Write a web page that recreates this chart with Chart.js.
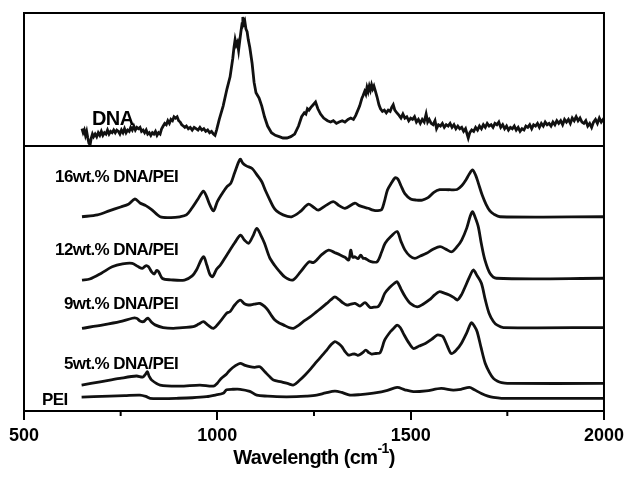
<!DOCTYPE html>
<html>
<head>
<meta charset="utf-8">
<script src="https://cdn.jsdelivr.net/npm/chart.js@4.4.1/dist/chart.umd.min.js"></script>
<style>
  html, body { margin: 0; padding: 0; background: #fff; }
  #wrap { width: 629px; height: 492px; }
</style>
</head>
<body>
<div id="wrap"><canvas id="ramanChart" width="629" height="492"></canvas></div>
<script>
// Raman spectra: [wavenumber (cm-1), relative intensity]
// top panel (DNA) uses its own 0-100 scale, bottom panel the stacked spectra 0-100

const dna = [
  [650,13],[653,10],[656,12],[659,8],[662,11],[665,6],[668,2],[671,1],[674,6],[677,9],
  [680,7],[684,9],[688,7],[692,10],[696,8],[700,11],[704,8],[708,10],[712,9],[716,12],
  [720,9],[724,11],[728,10],[732,12],[736,10],[740,12],[744,11],[748,9],[752,12],[756,10],
  [760,13],[764,10],[768,12],[772,11],[776,14],[780,12],[784,15],[788,12],[792,14],[796,13],
  [800,14],[804,11],[808,12],[812,10],[816,12],[820,9],[824,10],[828,8],[832,10],[836,9],
  [840,11],[844,8],[848,10],[852,9],[856,13],[860,15],[864,17],[868,16],[872,19],[876,17],
  [880,20],[884,19],[888,22],[892,21],[896,22],[900,19],[904,18],[908,16],[912,15],[916,14],
  [920,15],[925,13],[930,14],[935,12],[940,14],[945,13],[950,12],[955,14],[960,12],[965,13],
  [970,11],[975,12],[980,10],[985,11],[990,9],[994,8],[998,12],[1005,20],[1015,30],[1025,43],
  [1033,52],[1040,66],[1043,74],[1046,80],[1049,76],[1052,78],[1055,72],[1058,79],[1061,86],[1064,92],
  [1066,97],[1068,92],[1071,94],[1074,88],[1077,86],[1080,80],[1084,74],[1090,62],[1095,48],[1100,40],
  [1108,36],[1115,30],[1122,22],[1130,15],[1140,10],[1150,8],[1160,7],[1170,6],[1180,6],[1190,7],
  [1200,9],[1210,15],[1218,22],[1225,25],[1229,24],[1233,28],[1237,27],[1242,29],[1248,31],[1254,33],
  [1260,28],[1267,24],[1275,21],[1285,19],[1293,18],[1300,19],[1308,17],[1315,18],[1323,19],[1330,18],
  [1338,20],[1345,21],[1352,20],[1358,23],[1368,30],[1374,36],[1377,38],[1381,41],[1384,39],[1387,44],
  [1390,41],[1393,45],[1396,42],[1399,46],[1402,43],[1405,45],[1409,41],[1413,37],[1418,31],[1422,28],
  [1427,26],[1432,27],[1437,25],[1442,27],[1447,26],[1451,29],[1455,31],[1459,27],[1464,25],[1470,23],
  [1475,21],[1480,24],[1485,21],[1490,22],[1495,19],[1500,21],[1505,20],[1510,22],[1515,18],[1520,20],
  [1525,17],[1530,20],[1535,18],[1540,24],[1544,18],[1548,20],[1553,17],[1558,16],[1563,19],[1567,13],
  [1572,16],[1577,15],[1582,17],[1587,14],[1592,16],[1597,15],[1602,17],[1607,14],[1612,16],[1617,13],
  [1622,15],[1627,13],[1632,14],[1637,11],[1642,13],[1646,9],[1649,6],[1653,10],[1658,12],[1663,11],
  [1668,14],[1673,12],[1678,15],[1683,13],[1688,16],[1693,14],[1698,17],[1703,15],[1708,16],[1713,14],
  [1718,17],[1723,16],[1728,18],[1733,14],[1738,16],[1743,13],[1748,15],[1753,12],[1758,14],[1763,13],
  [1768,15],[1773,12],[1778,14],[1783,11],[1788,13],[1793,12],[1798,15],[1803,14],[1808,16],[1813,13],
  [1818,16],[1823,15],[1828,17],[1833,14],[1838,17],[1843,15],[1848,18],[1853,16],[1858,17],[1863,15],
  [1868,18],[1873,16],[1878,19],[1883,17],[1888,19],[1893,16],[1898,20],[1903,18],[1908,20],[1913,17],
  [1918,21],[1923,19],[1928,22],[1933,19],[1938,21],[1943,18],[1948,17],[1953,19],[1958,15],[1963,17],
  [1968,14],[1973,18],[1978,20],[1983,17],[1988,21],[1993,18],[1998,20],[2000,19]
];

const dnaPei16 = [
  [650,73.3],[690,74],[720,75.5],[750,77],[770,78],[787,80],[800,78.5],[815,77.5],[830,76],[852,73.3],
  [880,73],[903,73.3],[920,74],[934,76.5],[950,80],[964,83],[972,81],[980,78],[990,75.5],[1000,79],
  [1010,81.5],[1024,84.5],[1035,86],[1045,90],[1059,95],[1066,93.5],[1075,92.5],[1090,91.5],[1103,89],[1115,86.5],
  [1125,83],[1136,79.6],[1145,77],[1153,75.5],[1170,74],[1192,73.3],[1214,75.2],[1235,78],[1248,77],[1261,75.8],
  [1280,77.5],[1300,79],[1315,77.5],[1330,76.5],[1356,78.4],[1367,77.5],[1377,77],[1390,76.5],[1403,75.8],[1415,75.6],
  [1425,76],[1432,79],[1440,83.4],[1450,86],[1460,88],[1467,87.5],[1475,85],[1485,82],[1500,80],[1515,79.6],
  [1530,79.6],[1545,80.5],[1560,82.5],[1575,83.5],[1600,83.5],[1620,83.6],[1632,85],[1642,87],[1652,89.5],[1660,91],
  [1668,89],[1675,86],[1685,81.5],[1695,78],[1705,75.5],[1715,74.3],[1731,73.3],[2000,73.3]
];

const dnaPei12 = [
  [650,49.4],[670,49.8],[700,52],[728,54.4],[755,55.5],[780,55.7],[795,54.5],[806,53.8],[815,54.8],[822,54.4],
  [830,52.5],[837,51.7],[843,53],[848,52.6],[858,50],[880,49.5],[915,49.4],[935,51],[946,53.2],[958,57],
  [965,58.2],[973,55],[981,51.5],[988,50.7],[998,53.5],[1008,55.1],[1025,59],[1045,63.5],[1060,66.4],[1070,64.5],
  [1081,63.3],[1092,66],[1102,68.9],[1112,66.5],[1122,63.3],[1135,58],[1148,55],[1160,52.8],[1175,50.5],[1195,49.4],
  [1215,52.5],[1237,56.3],[1248,56],[1257,57],[1270,59],[1288,60.7],[1303,59.8],[1319,58.8],[1330,58],[1340,57],
  [1345,60.7],[1350,58],[1356,58.2],[1364,57.5],[1371,58.8],[1377,57.6],[1382,57.6],[1395,56.5],[1413,56.3],[1425,60],
  [1434,63.3],[1450,66],[1465,67.7],[1475,64],[1485,60.8],[1498,58.5],[1511,57.6],[1525,58.5],[1541,59.5],[1558,61],
  [1576,62],[1592,61],[1606,60.1],[1620,62],[1632,64.5],[1645,69],[1654,73.5],[1660,75.2],[1667,73],[1675,69.5],
  [1683,63],[1692,57],[1705,52],[1722,50.1],[2000,50.1]
];

const dnaPei9 = [
  [650,31.2],[705,32.5],[748,33.7],[780,35],[791,35],[800,34],[809,33.7],[815,34.5],[821,35],[830,33.5],
  [839,32.5],[860,31.5],[886,31.2],[910,31.5],[938,31.8],[952,32.8],[964,33.7],[975,32.5],[990,31.2],[1007,33.7],
  [1024,36.9],[1033,37.5],[1045,40],[1059,41.8],[1070,40.5],[1080,40],[1095,40.3],[1110,40.6],[1128,38.6],[1140,36],
  [1149,34.3],[1160,33.2],[1171,32.5],[1185,31.5],[1197,31.2],[1210,32.3],[1222,33.7],[1240,35.5],[1257,37.5],[1270,39],
  [1283,40.6],[1294,42],[1304,43.1],[1315,42],[1325,40.8],[1335,40],[1345,40.3],[1356,40.6],[1369,39.6],[1382,40.9],
  [1395,39.1],[1405,39.2],[1416,39.4],[1425,41.5],[1433,44.4],[1445,46.5],[1458,48.2],[1465,48.8],[1475,46],[1486,43.1],
  [1500,40.5],[1517,39.3],[1532,40.3],[1548,41.9],[1562,43.8],[1574,45],[1587,44.5],[1600,43.8],[1612,42.8],[1621,41.9],
  [1632,44],[1641,46.9],[1652,50.5],[1662,53.2],[1672,51],[1683,48.2],[1693,42],[1703,36.8],[1714,33.8],[1724,32.4],
  [1740,31.5],[2000,31.5]
];

const dnaPei5 = [
  [649,9.8],[697,11],[748,12.3],[791,13.2],[807,12.8],[814,13.8],[819,14.8],[824,13],[830,11.7],[852,9.8],
  [903,9.4],[955,9.8],[990,9.4],[1000,10.5],[1010,12.3],[1024,14],[1033,15.5],[1046,17],[1059,18],[1072,17.2],
  [1084,16.7],[1097,16.5],[1110,16.7],[1123,14.8],[1135,13],[1145,11.7],[1166,11],[1185,10.2],[1197,9.8],[1212,11.5],
  [1227,13.6],[1242,16],[1257,18.6],[1270,20.8],[1283,23],[1294,25],[1304,26.2],[1313,25.5],[1322,24.3],[1330,22.5],
  [1339,21.1],[1348,21.4],[1356,21.5],[1363,21],[1369,21.3],[1376,22],[1384,23],[1392,22],[1399,21.5],[1410,21.7],
  [1421,22],[1433,26.8],[1448,30],[1458,31.5],[1465,32.4],[1473,31.5],[1481,29.3],[1494,26],[1507,23.6],[1522,24.5],
  [1538,25.5],[1554,27],[1569,28.7],[1578,28.5],[1584,28],[1595,24.5],[1605,21.7],[1618,23],[1631,25.5],[1645,29.5],
  [1657,33.3],[1665,32],[1672,29.9],[1682,24],[1693,17.9],[1704,14.5],[1714,12.3],[1725,11.2],[1735,10.7],[1750,10.4],
  [2000,10.4]
];

const pei = [
  [649,5.2],[680,5.4],[722,5.6],[760,5.8],[800,6],[815,5.5],[826,4.8],[860,4.7],[895,4.8],[935,5],
  [972,5.4],[995,6],[1015,6.7],[1024,8],[1040,8.2],[1059,8.2],[1084,7.4],[1102,6],[1130,5.6],[1153,5.4],
  [1205,5.4],[1230,5.6],[1257,6],[1280,6.8],[1304,7.5],[1322,7],[1343,6],[1370,6.2],[1412,6.9],[1440,7.8],
  [1465,8.9],[1485,8],[1507,7.3],[1540,7.6],[1579,8.5],[1610,7.9],[1630,8.2],[1652,8.9],[1665,8],[1683,6.6],
  [1700,5.6],[1714,5.1],[1735,4.8],[2000,4.8]
];

const seriesNames = ['DNA', '16wt.% DNA/PEI', '12wt.% DNA/PEI', '9wt.% DNA/PEI', '5wt.% DNA/PEI', 'PEI'];
const xTickLabels = [500, 1000, 1500, 2000];
const xMinorTicks = [750, 1250, 1750];

const FONT = "'Liberation Sans', Arial, sans-serif";

function toPoints(arr) {
  return arr.map(p => ({ x: p[0], y: p[1] }));
}

function spectrum(label, arr, axis, tension) {
  return {
    label: label,
    data: toPoints(arr),
    yAxisID: axis,
    borderColor: '#111',
    borderWidth: 2.8,
    pointRadius: 0,
    fill: false,
    tension: tension
  };
}

// frame, panel divider and the short minor ticks
const framePlugin = {
  id: 'frame',
  afterDraw(chart) {
    const { ctx, chartArea: a, scales } = chart;
    const split = scales.yTop.bottom;
    ctx.save();
    ctx.strokeStyle = '#000';
    ctx.lineWidth = 2;
    ctx.strokeRect(a.left, a.top, a.right - a.left, a.bottom - a.top);
    ctx.beginPath();
    ctx.moveTo(a.left, split);
    ctx.lineTo(a.right, split);
    xMinorTicks.forEach(v => {
      const px = scales.x.getPixelForValue(v);
      ctx.moveTo(px, a.bottom);
      ctx.lineTo(px, a.bottom + 5);
    });
    ctx.stroke();
    ctx.restore();
  }
};

// spectrum names and the axis title (with superscript)
const textPlugin = {
  id: 'texts',
  afterDraw(chart) {
    const ctx = chart.ctx;
    ctx.save();
    ctx.fillStyle = '#000';
    ctx.textBaseline = 'middle';
    if ('letterSpacing' in ctx) ctx.letterSpacing = '-0.6px';

    ctx.font = 'bold 20px ' + FONT;
    ctx.textAlign = 'left';
    ctx.fillText(seriesNames[0], 92, 119);

    ctx.font = 'bold 17px ' + FONT;
    ctx.textAlign = 'right';
    ctx.fillText(seriesNames[1], 178, 177);
    ctx.fillText(seriesNames[2], 178, 250);
    ctx.fillText(seriesNames[3], 178, 304);
    ctx.fillText(seriesNames[4], 178, 364);
    ctx.textAlign = 'left';
    ctx.fillText(seriesNames[5], 42, 400);

    // x axis title: Wavelength (cm^-1)
    const main = 'Wavelength (cm';
    const sup = '-1';
    const tail = ')';
    ctx.font = 'bold 20px ' + FONT;
    const wMain = ctx.measureText(main).width;
    const wTail = ctx.measureText(tail).width;
    ctx.font = 'bold 14px ' + FONT;
    const wSup = ctx.measureText(sup).width;
    const total = wMain + wSup + wTail;
    let x = (chart.chartArea.left + chart.chartArea.right) / 2 - total / 2;
    const y = 458;
    ctx.textAlign = 'left';
    ctx.font = 'bold 20px ' + FONT;
    ctx.fillText(main, x, y);
    x += wMain;
    ctx.font = 'bold 14px ' + FONT;
    ctx.fillText(sup, x, y - 9);
    x += wSup;
    ctx.font = 'bold 20px ' + FONT;
    ctx.fillText(tail, x, y);
    ctx.restore();
  }
};

const ctx = document.getElementById('ramanChart').getContext('2d');
const chart = new Chart(ctx, {
  type: 'line',
  data: {
    datasets: [
      spectrum(seriesNames[0], dna, 'yTop', 0),
      spectrum(seriesNames[1], dnaPei16, 'yBottom', 0.3),
      spectrum(seriesNames[2], dnaPei12, 'yBottom', 0.3),
      spectrum(seriesNames[3], dnaPei9, 'yBottom', 0.3),
      spectrum(seriesNames[4], dnaPei5, 'yBottom', 0.3),
      spectrum(seriesNames[5], pei, 'yBottom', 0.3)
    ]
  },
  options: {
    responsive: false,
    animation: false,
    layout: { padding: { left: 24, right: 25, top: 13, bottom: 0 } },
    plugins: {
      legend: { display: false },
      tooltip: { enabled: false }
    },
    scales: {
      x: {
        type: 'linear',
        min: 500,
        max: 2000,
        afterFit(scale) { scale.height = 81; },
        afterBuildTicks(scale) {
          scale.ticks = xTickLabels.map(v => ({ value: v }));
        },
        ticks: {
          autoSkip: false,
          maxRotation: 0,
          padding: 5,
          color: '#000',
          font: { family: FONT, size: 18, weight: 'bold' },
          callback: v => String(v)
        },
        grid: {
          drawOnChartArea: false,
          drawTicks: true,
          tickLength: 9,
          lineWidth: 2,
          color: '#000'
        },
        border: { display: false }
      },
      yBottom: {
        type: 'linear',
        position: 'left',
        stack: 'panels',
        stackWeight: 265,
        weight: 1,
        min: 0,
        max: 100,
        display: false
      },
      yTop: {
        type: 'linear',
        position: 'left',
        stack: 'panels',
        stackWeight: 133,
        weight: 2,
        min: 0,
        max: 100,
        display: false
      }
    }
  },
  plugins: [framePlugin, textPlugin]
});
</script>
</body>
</html>
